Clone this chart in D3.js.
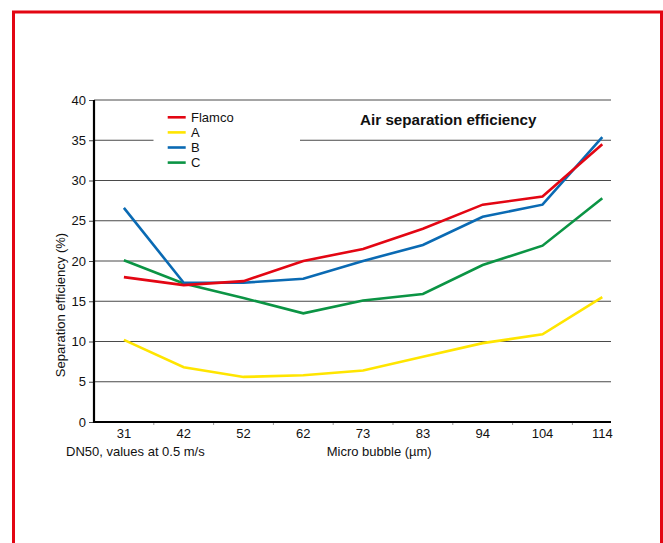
<!DOCTYPE html>
<html>
<head>
<meta charset="utf-8">
<script src="https://cdn.jsdelivr.net/npm/d3@7"></script>
<style>
html,body{margin:0;padding:0;background:#fff;}
svg{display:block;font-family:"Liberation Sans",Arial,sans-serif;}
</style>
</head>
<body>
<svg id="chart" width="663" height="543"></svg>
<script>
const categories = ["31","42","52","62","73","83","94","104","114"];
const flamco = [18.0,17.0,17.5,20.0,21.5,24.0,27.0,28.0,34.5];
const seriesA = [10.2,6.8,5.6,5.8,6.4,8.1,9.8,10.9,15.5];
const seriesB = [26.6,17.3,17.3,17.8,20.0,22.0,25.5,27.0,35.4];
const seriesC = [20.1,17.2,15.4,13.5,15.1,15.9,19.5,21.9,27.8];
const seriesNames = ["Flamco","A","B","C"];
const seriesColors = ["#e30613","#ffe500","#0a6ab3","#0b9444"];
const yTicks = [0,5,10,15,20,25,30,35,40];
const title = "Air separation efficiency";
const yLabel = "Separation efficiency (%)";
const xNote = "DN50, values at 0.5 m/s";
const xLabel = "Micro bubble (\u00b5m)";

const series = [flamco, seriesA, seriesB, seriesC];
const svg = d3.select("#chart");
const FF = "Liberation Sans, Arial, sans-serif";

// red frame
svg.append("rect").attr("x",13.5).attr("y",12).attr("width",648).attr("height",560)
  .attr("fill","none").attr("stroke","#e30613").attr("stroke-width",3);

const pLeft = 94, pRight = 611, pTop = 100, pBottom = 422;
const x = d3.scaleBand().domain(categories).range([pLeft, pLeft + 9*59.8]).padding(0);
const y = d3.scaleLinear().domain([0,40]).range([pBottom, pTop]);

// gridlines
svg.append("g").selectAll("line").data(yTicks.filter(d=>d>0)).join("line")
  .attr("x1",pLeft).attr("x2",pRight).attr("y1",d=>y(d)).attr("y2",d=>y(d))
  .attr("stroke","#4a4a4a").attr("stroke-width",1);

// y axis
const yAxis = svg.append("g").attr("transform",`translate(${pLeft},0)`)
  .call(d3.axisLeft(y).tickValues(yTicks).tickSize(5).tickPadding(3));
yAxis.select(".domain").remove();
yAxis.selectAll(".tick line").attr("stroke","#4a4a4a");
yAxis.selectAll("text").attr("font-size",13).attr("fill","#111").attr("font-family",FF);

// x axis
const xAxis = svg.append("g").attr("transform",`translate(0,${pBottom})`)
  .call(d3.axisBottom(x).tickSize(0).tickPadding(7));
xAxis.select(".domain").remove();
xAxis.selectAll("text").attr("font-size",13).attr("fill","#111").attr("font-family",FF);
// small separator ticks between categories
svg.append("g").selectAll("line").data(categories.slice(1)).join("line")
  .attr("x1",d=>x(d)).attr("x2",d=>x(d)).attr("y1",pBottom).attr("y2",pBottom+3)
  .attr("stroke","#999").attr("stroke-width",1);

// axis lines
svg.append("line").attr("x1",pLeft).attr("x2",pRight).attr("y1",pBottom).attr("y2",pBottom)
  .attr("stroke","#000").attr("stroke-width",2.2);
svg.append("line").attr("x1",pLeft).attr("x2",pLeft).attr("y1",pTop).attr("y2",pBottom+1)
  .attr("stroke","#000").attr("stroke-width",2.2);

// legend box (covers gridline)
svg.append("rect").attr("x",153.5).attr("y",106).attr("width",146.5).attr("height",64).attr("fill","#fff");

// lines
const line = d3.line().x((d,i)=>x(categories[i]) + x.bandwidth()/2).y(d=>y(d));
const order = [1,3,2,0];
order.forEach(k=>{
  svg.append("path").datum(series[k]).attr("d",line).attr("fill","none")
    .attr("stroke",seriesColors[k]).attr("stroke-width",2.6).attr("stroke-linejoin","miter");
});

// legend
const lg = svg.append("g");
seriesNames.forEach((n,i)=>{
  const yy = 117.3 + i*15.1;
  lg.append("line").attr("x1",167.7).attr("x2",185.7).attr("y1",yy).attr("y2",yy)
    .attr("stroke",seriesColors[i]).attr("stroke-width",2.6);
  lg.append("text").attr("x",191).attr("y",yy).attr("dy","0.36em").attr("font-size",13)
    .attr("fill","#111").text(n);
});

// title
svg.append("text").attr("x",448.3).attr("y",120).attr("dy","0.36em").attr("text-anchor","middle")
  .attr("font-size",15.2).attr("font-weight","bold").attr("fill","#111").text(title);

// y label
svg.append("text").attr("transform","translate(60.5,305) rotate(-90)").attr("text-anchor","middle")
  .attr("dy","0.36em").attr("font-size",13).attr("fill","#111").text(yLabel);

// x notes
svg.append("text").attr("x",66).attr("y",451.5).attr("dy","0.36em").attr("font-size",13)
  .attr("fill","#111").text(xNote);
svg.append("text").attr("x",326.7).attr("y",451.5).attr("dy","0.36em").attr("font-size",13)
  .attr("fill","#111").text(xLabel);
</script>
</body>
</html>
